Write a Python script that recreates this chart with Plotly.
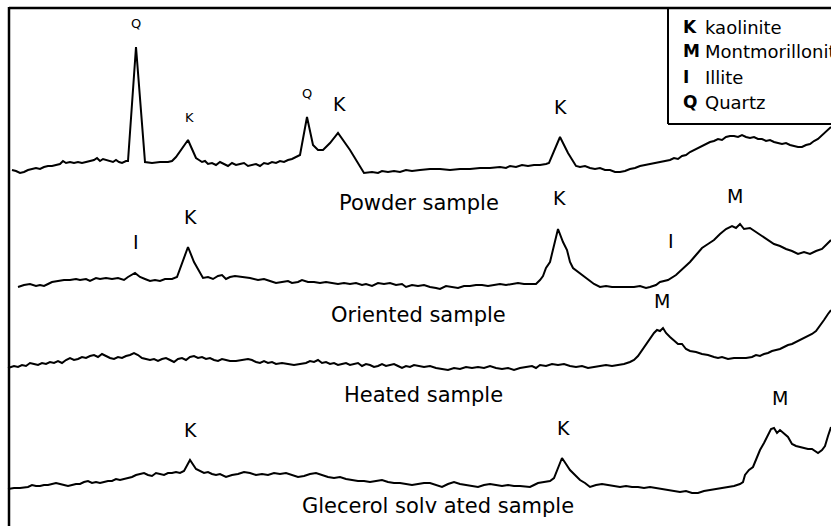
import plotly.graph_objects as go

# ---- data (position along scan, signal level in screen-down units) ----
powder_x = [12, 16, 20, 24, 28, 32, 36, 40, 44, 48, 52, 56, 60, 63, 66, 70, 74, 78, 82, 86, 90, 94, 97, 100, 103,
            106, 110, 113, 116, 119, 122, 126, 128, 136, 145, 152, 160, 168, 172, 176, 188, 196, 199, 202, 205, 208,
            212, 216, 220, 224, 228, 232, 236, 240, 244, 248, 252, 256, 260, 264, 268, 272, 276, 280, 284, 288, 292,
            300, 307, 313, 318, 323, 330, 338, 350, 364, 372, 378, 382, 388, 394, 400, 406, 412, 420, 430, 440, 450,
            460, 470, 480, 490, 500, 506, 510, 516, 522, 528, 534, 540, 546, 549, 560, 568, 576, 580, 585, 590, 595,
            600, 605, 610, 615, 620, 625, 630, 635, 640, 645, 650, 655, 660, 665, 670, 674, 678, 682, 686, 690, 694,
            698, 702, 706, 710, 714, 718, 722, 726, 730, 734, 738, 742, 746, 750, 754, 758, 762, 766, 770, 774, 778,
            782, 786, 790, 794, 798, 802, 806, 810, 814, 818, 822, 826, 831]
powder_y = [170, 171, 173, 172, 170, 169, 168, 169, 167, 166, 166, 165, 164, 161, 163, 162, 163, 162, 163, 162, 161,
            160, 158, 161, 159, 160, 161, 162, 160, 162, 163, 161, 161, 47, 162, 163, 162, 162, 161, 157, 140, 158,
            160, 162, 161, 164, 163, 165, 162, 164, 166, 163, 165, 164, 163, 166, 165, 164, 166, 163, 164, 162, 163,
            161, 162, 160, 159, 155, 117, 145, 150, 150, 143, 133, 150, 173, 172, 173, 171, 172, 171, 172, 170, 171,
            170, 169, 169, 170, 169, 169, 168, 168, 167, 168, 166, 167, 165, 166, 165, 165, 164, 163, 137, 153, 166,
            167, 166, 168, 169, 168, 170, 170, 172, 172, 171, 169, 168, 166, 165, 164, 163, 162, 161, 160, 158, 159,
            156, 155, 152, 150, 148, 146, 144, 142, 141, 139, 140, 137, 136, 136, 137, 135, 137, 138, 137, 139, 139,
            141, 140, 142, 143, 144, 143, 145, 146, 147, 147, 145, 144, 141, 139, 135, 131, 127]

oriented_x = [18, 24, 30, 36, 40, 44, 48, 52, 58, 64, 70, 76, 80, 86, 90, 96, 100, 106, 112, 118, 124, 128, 135, 140,
              145, 150, 155, 160, 165, 172, 177, 188, 194, 199, 203, 208, 213, 218, 222, 226, 230, 235, 242, 250, 258,
              264, 270, 276, 282, 288, 292, 298, 302, 308, 314, 320, 326, 332, 338, 344, 350, 356, 362, 366, 372, 378,
              384, 390, 396, 402, 406, 412, 418, 424, 430, 436, 440, 446, 452, 458, 464, 470, 476, 482, 488, 494, 500,
              506, 512, 518, 524, 530, 536, 540, 543, 546, 550, 558, 563, 567, 570, 573, 578, 584, 590, 594, 600, 606,
              612, 620, 628, 634, 640, 646, 650, 656, 660, 668, 676, 684, 690, 696, 702, 708, 714, 720, 726, 732, 736,
              740, 744, 750, 756, 762, 768, 774, 780, 786, 792, 798, 804, 810, 816, 822, 826, 831]
oriented_y = [287, 285, 284, 286, 285, 286, 284, 282, 281, 280, 280, 279, 280, 279, 281, 278, 279, 278, 279, 278, 280,
              277, 273, 277, 279, 281, 280, 281, 279, 279, 277, 247, 262, 271, 278, 277, 279, 276, 275, 279, 277, 276,
              277, 278, 280, 279, 281, 283, 282, 281, 283, 282, 280, 282, 282, 283, 282, 283, 284, 283, 284, 283, 285,
              284, 286, 283, 284, 283, 285, 284, 287, 285, 286, 285, 287, 288, 289, 286, 287, 288, 286, 286, 285, 285,
              286, 285, 284, 285, 284, 283, 284, 284, 284, 280, 276, 268, 262, 229, 242, 250, 262, 268, 272, 276, 281,
              284, 287, 286, 287, 287, 287, 287, 286, 288, 287, 285, 282, 280, 275, 268, 262, 255, 248, 244, 240, 234,
              229, 226, 228, 224, 229, 228, 232, 236, 240, 244, 246, 249, 251, 254, 252, 254, 251, 249, 245, 240]

heated_x = [8, 14, 18, 22, 26, 30, 34, 38, 42, 46, 50, 54, 58, 62, 66, 70, 74, 78, 82, 86, 90, 94, 98, 102, 106, 110,
            114, 118, 122, 126, 130, 134, 138, 142, 146, 150, 154, 158, 162, 166, 170, 174, 178, 182, 186, 190, 194,
            198, 202, 206, 210, 214, 218, 222, 226, 230, 236, 242, 248, 252, 256, 260, 264, 268, 272, 276, 282, 288,
            294, 300, 306, 310, 314, 318, 322, 326, 330, 334, 338, 342, 346, 350, 354, 358, 362, 366, 370, 374, 378,
            382, 386, 390, 394, 398, 402, 406, 410, 414, 418, 424, 430, 436, 442, 448, 454, 460, 466, 472, 478, 484,
            490, 496, 502, 508, 514, 520, 526, 532, 536, 540, 546, 552, 558, 564, 570, 576, 582, 588, 594, 600, 606,
            612, 618, 624, 630, 634, 638, 642, 646, 650, 654, 657, 660, 663, 666, 670, 674, 678, 682, 686, 690, 696,
            702, 708, 714, 718, 722, 728, 734, 740, 746, 752, 756, 760, 764, 768, 772, 776, 780, 784, 788, 792, 796,
            800, 804, 808, 812, 816, 820, 824, 828, 831]
heated_y = [368, 366, 367, 365, 366, 363, 364, 365, 363, 364, 362, 363, 361, 363, 360, 358, 360, 359, 357, 358, 356,
            355, 357, 354, 356, 358, 359, 357, 358, 356, 355, 353, 355, 358, 359, 360, 359, 361, 359, 358, 360, 362,
            359, 358, 360, 357, 356, 358, 357, 359, 358, 360, 361, 359, 360, 361, 361, 360, 359, 360, 362, 363, 361,
            363, 362, 364, 363, 364, 365, 364, 363, 361, 362, 360, 363, 362, 364, 363, 365, 364, 363, 365, 364, 363,
            366, 364, 365, 367, 366, 364, 366, 365, 364, 366, 368, 366, 367, 365, 366, 367, 366, 368, 369, 370, 368,
            369, 367, 368, 367, 368, 366, 368, 369, 368, 370, 368, 367, 366, 368, 365, 366, 364, 365, 364, 366, 367,
            366, 368, 367, 366, 365, 366, 365, 364, 362, 360, 356, 350, 344, 338, 333, 330, 331, 328, 333, 337, 341,
            344, 344, 349, 351, 352, 354, 355, 357, 358, 357, 359, 358, 358, 358, 357, 355, 356, 354, 353, 351, 350,
            349, 347, 345, 344, 342, 340, 338, 336, 334, 331, 326, 320, 314, 310]

glycerol_x = [8, 14, 20, 28, 32, 36, 40, 44, 48, 52, 56, 60, 64, 68, 72, 76, 80, 84, 88, 92, 96, 100, 104, 108, 112,
              116, 120, 124, 128, 132, 136, 140, 144, 148, 152, 156, 160, 164, 168, 172, 176, 180, 184, 190, 196, 200,
              204, 208, 212, 216, 220, 226, 232, 238, 244, 250, 256, 262, 268, 274, 280, 286, 292, 298, 304, 310, 316,
              322, 328, 334, 340, 346, 352, 358, 364, 370, 376, 382, 388, 394, 400, 406, 412, 418, 424, 430, 436, 442,
              448, 454, 460, 466, 472, 478, 484, 490, 496, 502, 508, 514, 520, 526, 530, 534, 538, 544, 550, 554, 562,
              566, 570, 575, 580, 585, 590, 596, 602, 608, 614, 620, 626, 632, 638, 644, 650, 656, 662, 668, 674, 680,
              686, 692, 698, 704, 710, 716, 722, 728, 734, 740, 743, 745, 749, 753, 756, 760, 764, 768, 771, 774, 777,
              780, 784, 788, 792, 796, 800, 804, 808, 812, 816, 818, 822, 825, 828, 831]
glycerol_y = [489, 488, 488, 487, 485, 486, 486, 485, 485, 484, 483, 484, 485, 486, 485, 484, 484, 482, 481, 483, 482,
              483, 482, 481, 481, 479, 480, 479, 478, 477, 475, 474, 473, 475, 476, 473, 474, 475, 473, 473, 472, 473,
              471, 460, 469, 471, 473, 472, 474, 475, 474, 477, 475, 474, 472, 473, 475, 474, 475, 473, 474, 473, 475,
              477, 476, 474, 473, 475, 477, 478, 477, 479, 480, 481, 481, 482, 481, 480, 482, 483, 483, 484, 485, 484,
              483, 483, 485, 487, 484, 482, 484, 485, 486, 487, 485, 484, 485, 486, 485, 486, 486, 487, 487, 485, 483,
              482, 481, 478, 458, 464, 470, 475, 480, 483, 487, 485, 484, 485, 486, 487, 486, 487, 487, 488, 487, 488,
              489, 490, 491, 492, 491, 493, 493, 491, 490, 489, 488, 487, 486, 484, 482, 475, 470, 467, 460, 450, 443,
              435, 429, 428, 433, 430, 434, 437, 444, 446, 447, 448, 449, 449, 452, 453, 450, 446, 436, 427]

# peak letters: (text, x, y, size)
peak_labels = [("Q", 136, 23, 13), ("K", 189, 117, 13), ("Q", 307, 93, 13), ("K", 339, 104, 19), ("K", 560, 107, 19),
               ("I", 136, 242, 19), ("K", 190, 217, 19), ("K", 559, 198, 19), ("I", 671, 241, 19), ("M", 735, 196, 19),
               ("M", 662, 301, 19),
               ("K", 190, 430, 19), ("K", 563, 428, 19), ("M", 780, 398, 19)]
sample_labels = [("Powder sample", 419, 203), ("Oriented sample", 418, 315), ("Heated sample", 423, 395),
                 ("Glecerol solv ated sample", 438, 506)]
legend_keys = ["K", "M", "I", "Q"]
legend_names = ["kaolinite", "Montmorillonite", "Illite", "Quartz"]
legend_rows_y = [27, 51, 77, 102]

FONT = "DejaVu Sans"
fig = go.Figure()
for xs, ys in [(powder_x, powder_y), (oriented_x, oriented_y), (heated_x, heated_y), (glycerol_x, glycerol_y)]:
    fig.add_trace(go.Scatter(x=xs, y=ys, mode="lines", line=dict(color="black", width=2), showlegend=False,
                             hoverinfo="skip"))

ann = []
for t, x, y, s in peak_labels:
    ann.append(dict(x=x, y=y, text=t, showarrow=False, font=dict(family=FONT, size=s, color="black"),
                    xanchor="center", yanchor="middle"))
for t, x, y in sample_labels:
    ann.append(dict(x=x, y=y, text=t, showarrow=False, font=dict(family=FONT, size=21, color="black"),
                    xanchor="center", yanchor="middle"))
for k, n, y in zip(legend_keys, legend_names, legend_rows_y):
    ann.append(dict(x=681, y=y, text="<b>" + k + "</b>", showarrow=False,
                    font=dict(family=FONT, size=17, color="black"), xanchor="left", yanchor="middle"))
    ann.append(dict(x=703, y=y, text=n, showarrow=False, font=dict(family=FONT, size=18, color="black"),
                    xanchor="left", yanchor="middle"))

fig.update_layout(
    width=831, height=526, margin=dict(l=0, r=0, t=0, b=0),
    paper_bgcolor="white", plot_bgcolor="white",
    xaxis=dict(range=[0, 831], visible=False, fixedrange=True),
    yaxis=dict(range=[526, 0], visible=False, fixedrange=True),
    annotations=ann,
    shapes=[
        dict(type="line", x0=9, x1=9, y0=7, y1=526, line=dict(color="black", width=2.5)),
        dict(type="line", x0=9, x1=831, y0=8, y1=8, line=dict(color="black", width=2.5)),
        dict(type="line", x0=668, x1=668, y0=8, y1=124, line=dict(color="black", width=2)),
        dict(type="line", x0=668, x1=831, y0=124, y1=124, line=dict(color="black", width=2)),
    ],
)
fig.write_html("out.html")
